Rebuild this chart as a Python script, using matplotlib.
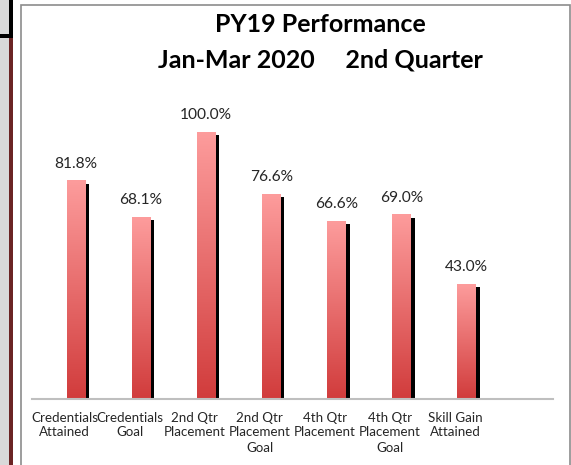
import numpy as np
import matplotlib
matplotlib.use("Agg")
import matplotlib.pyplot as plt
from matplotlib.patches import Rectangle
from matplotlib.colors import LinearSegmentedColormap

plt.rcParams['font.family'] = ['Lato', 'DejaVu Sans']

categorias = ["Credentials\nAttained", "Credentials\nGoal", "2nd Qtr\nPlacement",
              "2nd Qtr\nPlacement\nGoal", "4th Qtr\nPlacement", "4th Qtr\nPlacement\nGoal",
              "Skill Gain\nAttained", ""]
valores = [81.8, 68.1, 100.0, 76.6, 66.6, 69.0, 43.0]
etiquetas = ["81.8%", "68.1%", "100.0%", "76.6%", "66.6%", "69.0%", "43.0%"]

W, H = 571, 465
fig = plt.figure(figsize=(W / 100, H / 100), dpi=100)
fig.patch.set_facecolor("white")

# marco y franjas de la izquierda (pixeles de la figura)
def px_rect(x0, y0, x1, y1, **kw):
    fig.patches.append(Rectangle((x0 / W, 1 - y1 / H), (x1 - x0) / W, (y1 - y0) / H,
                                 transform=fig.transFigure, figure=fig, zorder=-5, **kw))

px_rect(0, 0, 9, H, facecolor="#d9d9d9", edgecolor="none")
px_rect(9, 0, 12.7, 36, facecolor="black", edgecolor="none")
px_rect(0, 34, 12.7, 38, facecolor="black", edgecolor="none")
px_rect(9, 38, 12.7, H, facecolor="#6b2424", edgecolor="none")
px_rect(21, 4.5, 570, H + 5, facecolor="white", edgecolor="#8c8c8c", linewidth=1.2)

# ejes: linea base en y=399, 100% en y=132
base, tope = 399, 80
px100 = 267
ax = fig.add_axes([32 / W, 1 - base / H, 521 / W, (base - tope) / H])
ax.patch.set_alpha(0)

ux = 1 / 65.0          # unidades x por pixel
uy = 100 / px100       # unidades y por pixel
ancho = 18.5 * ux
cmap = LinearSegmentedColormap.from_list("rojo", ["#d13c3c", "#fd9c9c"])
grad = np.linspace(0, 1, 256).reshape(-1, 1)

for i, v in enumerate(valores):
    izq = i + 2 * ux
    # sombra
    ax.add_patch(Rectangle((izq + 4 * ux, 0), ancho, v - 3 * uy, facecolor="black",
                           edgecolor="none", zorder=1))
    ax.imshow(grad, cmap=cmap, origin="lower", aspect="auto",
              extent=(izq, izq + ancho, 0, v), zorder=2)
    ax.text(izq + ancho / 2, v + 17 * uy, etiquetas[i], ha="center", va="center",
            fontsize=11.2, color="#262626", clip_on=False)

ax.set_xlim(-0.5, 7.5)
ax.set_ylim(0, (base - tope) / px100 * 100)
ax.set_xticks(range(len(categorias)))
ax.set_xticklabels(categorias, fontsize=9.6, color="#262626", linespacing=1.3)
ax.tick_params(axis="x", length=0, pad=9)
ax.set_yticks([])
for lado in ["top", "right", "left"]:
    ax.spines[lado].set_visible(False)
ax.spines["bottom"].set_color("#bfbfbf")
ax.spines["bottom"].set_linewidth(1.5)

fig.text(320 / W, 1 - 25 / H, "PY19 Performance", ha="center", va="center",
         fontsize=18, fontweight="bold", color="black")
fig.text(320 / W, 1 - 60 / H, "Jan-Mar 2020     2nd Quarter", ha="center", va="center",
         fontsize=18, fontweight="bold", color="black")

fig.savefig("out.png", dpi=100)
